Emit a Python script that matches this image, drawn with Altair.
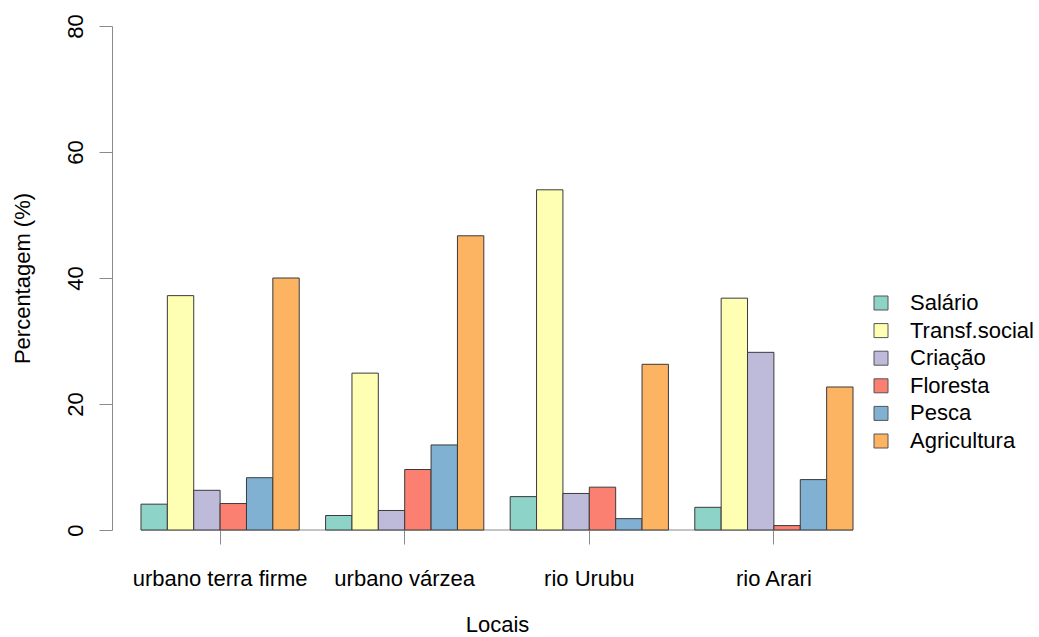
import altair as alt
import pandas as pd

# Income sources by location (percent)
locais = ["urbano terra firme", "urbano várzea", "rio Urubu", "rio Arari"]
fontes = ["Salário", "Transf.social", "Criação", "Floresta", "Pesca", "Agricultura"]
cores = ["#8DD3C7", "#FFFFB3", "#BEBADA", "#FB8072", "#80B1D3", "#FDB462"]

salario = [4.1, 2.3, 5.3, 3.6]
transf_social = [37.2, 24.9, 54.0, 36.8]
criacao = [6.3, 3.1, 5.8, 28.2]
floresta = [4.2, 9.6, 6.8, 0.7]
pesca = [8.3, 13.5, 1.8, 8.0]
agricultura = [40.0, 46.7, 26.3, 22.7]

series = [salario, transf_social, criacao, floresta, pesca, agricultura]
rows = []
for fonte, vals in zip(fontes, series):
    for local, v in zip(locais, vals):
        rows.append({"Locais": local, "Fonte": fonte, "Pct": v})
df = pd.DataFrame(rows)

FONT = "Liberation Sans"
FS = 22
AXIS_GRAY = "#8a8a8a"

W, H = 770, 504
LEFT, TOP = 112, 26
PAD_INNER = 1 / 7
PAD_OUTER = 0.157
step = W / (len(locais) - PAD_INNER + 2 * PAD_OUTER)
edge = step * PAD_OUTER

x_scale = alt.Scale(domain=locais, paddingInner=PAD_INNER, paddingOuter=PAD_OUTER)
y_scale = alt.Scale(domain=[0, 80], nice=False, zero=True)

bars = alt.Chart(df).mark_bar(stroke="#3a3a3a", strokeWidth=1).encode(
    x=alt.X(
        "Locais:N",
        scale=x_scale,
        sort=locais,
        axis=alt.Axis(
            title="Locais",
            domain=False,
            ticks=True,
            tickSize=14,
            tickColor=AXIS_GRAY,
            labelAngle=0,
            labelFont=FONT,
            labelFontSize=FS,
            labelColor="black",
            labelBaseline="alphabetic",
            labelPadding=41,
            titleFont=FONT,
            titleFontSize=FS,
            titleFontWeight="normal",
            titleColor="black",
            titleBaseline="alphabetic",
            titleY=101,
        ),
    ),
    xOffset=alt.XOffset(
        "Fonte:N",
        sort=fontes,
        scale=alt.Scale(domain=fontes, paddingInner=0, paddingOuter=0),
    ),
    y=alt.Y(
        "Pct:Q",
        scale=y_scale,
        axis=alt.Axis(
            title="Percentagem (%)",
            values=[0, 20, 40, 60, 80],
            grid=False,
            domainColor=AXIS_GRAY,
            tickColor=AXIS_GRAY,
            tickSize=13,
            labelAngle=270,
            labelAlign="center",
            labelBaseline="alphabetic",
            labelPadding=17,
            labelFont=FONT,
            labelFontSize=FS,
            labelColor="black",
            titleFont=FONT,
            titleFontSize=FS,
            titleFontWeight="normal",
            titleColor="black",
            titleAngle=270,
            titleAlign="center",
            titleBaseline="alphabetic",
            titleX=-83,
            titleY=H / 2,
        ),
    ),
    fill=alt.Fill(
        "Fonte:N",
        sort=fontes,
        scale=alt.Scale(domain=fontes, range=cores),
        legend=alt.Legend(
            title=None,
            orient="none",
            legendX=758,
            legendY=266,
            symbolType="square",
            symbolSize=196,
            symbolStrokeColor="#555555",
            symbolStrokeWidth=1,
            symbolOpacity=1,
            labelFont=FONT,
            labelFontSize=FS,
            labelColor="black",
            labelOffset=18,
            rowPadding=5.6,
            padding=0,
        ),
    ),
)

# Baseline under the bar groups
base = alt.Chart(pd.DataFrame({"y": [0]})).mark_rule(color=AXIS_GRAY, strokeWidth=1.2).encode(
    y=alt.Y("y:Q", scale=y_scale),
    x=alt.value(edge),
    x2=alt.value(W - edge),
)

chart = (
    alt.layer(base, bars)
    .properties(
        width=W,
        height=H,
        autosize=alt.AutoSizeParams(type="none"),
        padding={"left": LEFT, "top": TOP, "right": 1039 - LEFT - W, "bottom": 637 - TOP - H},
        background="white",
    )
    .configure_view(stroke=None)
)

chart.save("out.html", embed_options={"renderer": "svg", "actions": False})
